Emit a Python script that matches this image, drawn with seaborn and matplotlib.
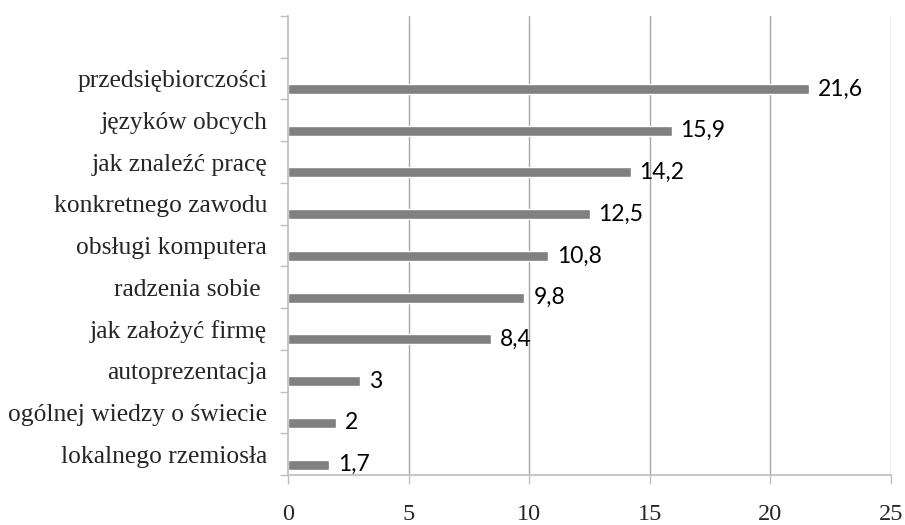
import matplotlib
matplotlib.use("Agg")
import matplotlib.pyplot as plt
import seaborn as sns
import pandas as pd
import numpy as np

# === DATA ===
categories = ["przedsiębiorczości", "języków obcych", "jak znaleźć pracę",
              "konkretnego zawodu", "obsługi komputera", "radzenia sobie ",
              "jak założyć firmę", "autoprezentacja", "ogólnej wiedzy o świecie",
              "lokalnego rzemiosła"]
values = [21.6, 15.9, 14.2, 12.5, 10.8, 9.8, 8.4, 3, 2, 1.7]
x_ticks = [0, 5, 10, 15, 20, 25]

df = pd.DataFrame({"kategoria": categories, "wartosc": values})
order = [""] + categories  # pusty slot na górze

# === STYLE ===
sns.set_theme(style="white")
plt.rcParams["font.family"] = ["Liberation Serif", "DejaVu Serif"]
AXIS_GRAY = "#bfbfbf"
GRID_GRAY = "#a6a6a6"
BAR_GRAY = "#808080"

fig = plt.figure(figsize=(9.05, 5.25), dpi=100)
ax = fig.add_axes([288 / 905, 50 / 525, (891 - 288) / 905, (475 - 16) / 525])

sns.barplot(data=df, x="wartosc", y="kategoria", order=order, color=BAR_GRAY,
            width=0.24, saturation=1, ax=ax, orient="h")

# Excel-like offset of the bars inside each slot
for p in ax.patches:
    p.set_y(p.get_y() + 0.25)

labels = [f"{p.get_width():g}".replace(".", ",") for p in ax.containers[0]]
ax.bar_label(ax.containers[0], labels=labels, padding=6.5,
             fontsize=16.5, family=["Lato", "DejaVu Sans"], color="black")

# === AXES ===
ax.set_xlim(0, 25)
ax.set_ylim(len(order) - 0.5, -0.5)
ax.set_xticks(x_ticks)
ax.set_xticklabels([str(t) for t in x_ticks], fontsize=17.5)
ax.set_yticks(np.arange(len(order) + 1) - 0.5)
ax.set_yticklabels([])
ax.set_yticks(np.arange(len(order)), minor=True)
ax.set_yticklabels(order, minor=True, fontsize=18.4)
ax.tick_params(axis="y", which="minor", length=0, pad=15)
ax.tick_params(axis="y", which="major", length=6, width=1, color=AXIS_GRAY, left=True)
ax.tick_params(axis="x", length=6.5, width=1, color=AXIS_GRAY, bottom=True, pad=14.5)
ax.set_xlabel("")
ax.set_ylabel("")

for x in x_ticks[1:]:
    ax.axvline(x, color=GRID_GRAY, lw=1, zorder=0)

sns.despine(ax=ax, top=True, right=True)
ax.spines["left"].set_color(AXIS_GRAY)
ax.spines["bottom"].set_color(AXIS_GRAY)

fig.savefig("out.png", dpi=100, facecolor="white")
